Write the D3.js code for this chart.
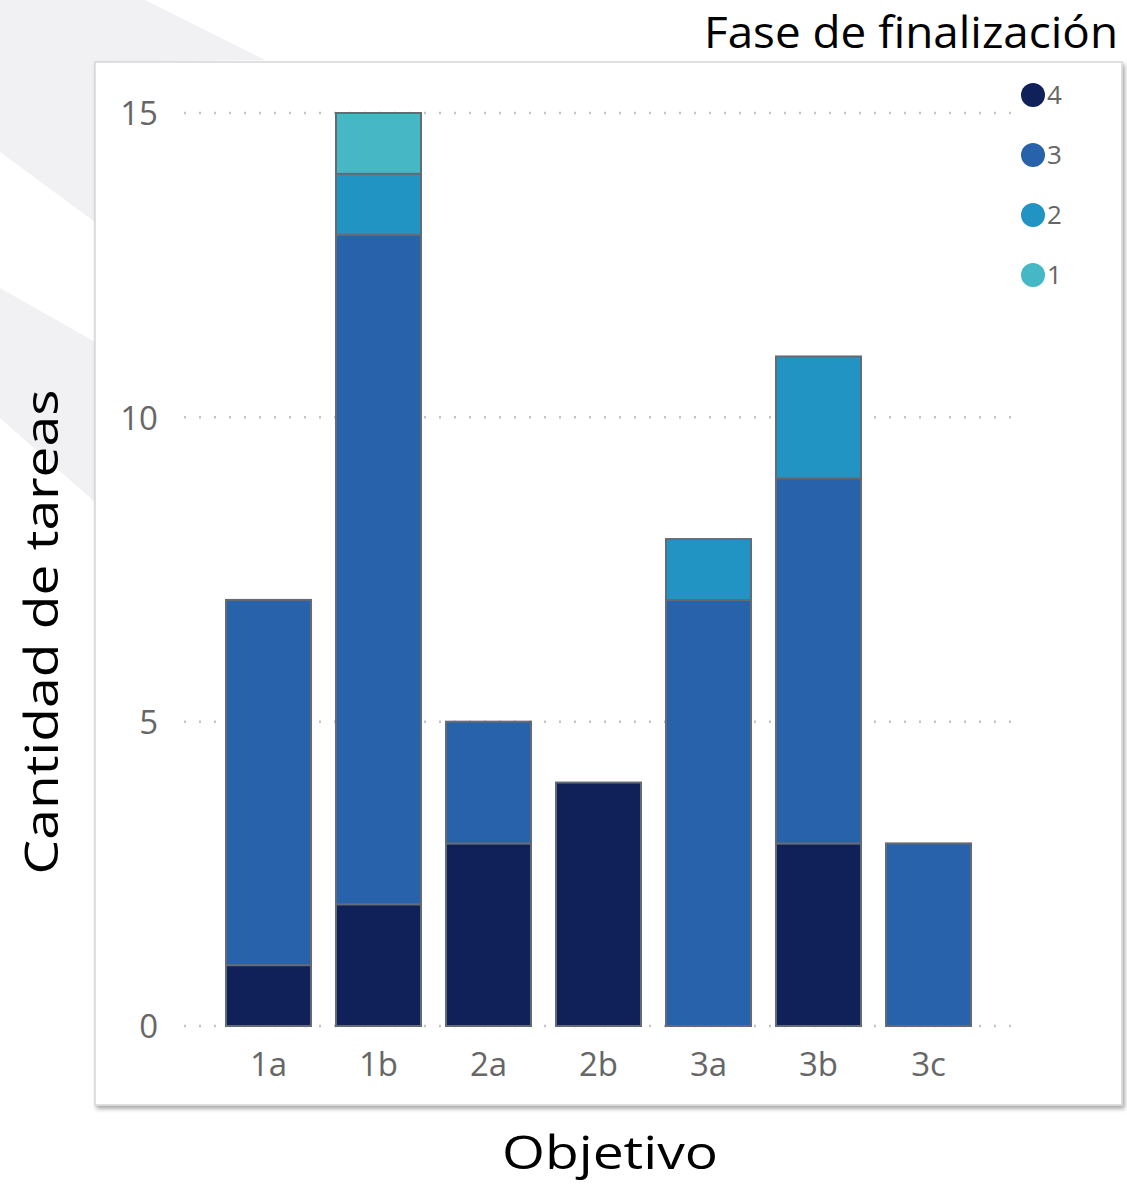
<!DOCTYPE html>
<html>
<head>
<meta charset="utf-8">
<script src="https://cdn.jsdelivr.net/npm/d3@7"></script>
<style>
  html, body { margin: 0; padding: 0; background: #fff; }
  svg { display: block; }
</style>
</head>
<body>
<svg id="chart"></svg>
<script>
// data
const objetivos = ['1a', '1b', '2a', '2b', '3a', '3b', '3c'];
const fases = ['4', '3', '2', '1'];
const fase4 = [1, 2, 3, 4, 0, 3, 0];
const fase3 = [6, 11, 2, 0, 7, 6, 3];
const fase2 = [0, 1, 0, 0, 1, 2, 0];
const fase1 = [0, 1, 0, 0, 0, 0, 0];
const yTicks = [0, 5, 10, 15];
const colores = ['#10215a', '#2862aa', '#2294c4', '#46b7c4'];

const width = 1127;
const height = 1195;

const svg = d3.select('#chart').attr('width', width).attr('height', height);

// faint background shapes on the left
const bg = svg.append('g').attr('fill', '#f1f1f3');
bg.append('path').attr('d', 'M0,0 L145,0 L265,60 L95,62 L95,222 L0,152 Z');
bg.append('path').attr('d', 'M0,288 L95,342 L95,502 L0,418 Z');

// panel with shadow
const defs = svg.append('defs');
const filt = defs.append('filter').attr('id', 'sombra').attr('x', '-5%').attr('y', '-5%').attr('width', '110%').attr('height', '110%');
filt.append('feDropShadow').attr('dx', 2).attr('dy', 3).attr('stdDeviation', 2).attr('flood-color', '#000').attr('flood-opacity', 0.35);

svg.append('rect')
  .attr('x', 95).attr('y', 62)
  .attr('width', 1027).attr('height', 1043)
  .attr('fill', '#fff')
  .attr('stroke', '#d6d6d6')
  .attr('stroke-width', 1.5)
  .attr('filter', 'url(#sombra)');

// scales
const x = d3.scaleBand()
  .domain(objetivos)
  .range([213.5, 983.5])
  .paddingInner(0.227)
  .paddingOuter(0.1135);

const y = d3.scaleLinear().domain([0, 15]).range([1026, 113]);

const color = d3.scaleOrdinal().domain(fases).range(colores);

// gridlines
svg.append('g')
  .selectAll('line')
  .data(yTicks)
  .enter()
  .append('line')
  .attr('x1', 184).attr('x2', 1015)
  .attr('y1', (d) => y(d)).attr('y2', (d) => y(d))
  .attr('stroke', '#c4c4c4')
  .attr('stroke-width', 2.5)
  .attr('stroke-dasharray', '2,13');

// y axis labels
const yAxis = svg.append('g')
  .attr('transform', 'translate(158,0)')
  .call(d3.axisLeft(y).tickValues(yTicks).tickSize(0).tickPadding(0));
yAxis.select('.domain').remove();
yAxis.selectAll('text')
  .attr('font-family', 'Open Sans, Noto Sans, sans-serif')
  .attr('font-size', 33)
  .attr('fill', '#666')
  .attr('dy', '0.36em');

// x axis labels
const xAxis = svg.append('g')
  .attr('transform', 'translate(0,1026)')
  .call(d3.axisBottom(x).tickSize(0).tickPadding(0));
xAxis.select('.domain').remove();
xAxis.selectAll('text')
  .attr('font-family', 'Open Sans, Noto Sans, sans-serif')
  .attr('font-size', 33)
  .attr('fill', '#666')
  .attr('y', 50)
  .attr('dy', 0);

// stacked bars
const tabla = objetivos.map((o, i) => ({
  objetivo: o,
  '4': fase4[i],
  '3': fase3[i],
  '2': fase2[i],
  '1': fase1[i],
}));

const series = d3.stack().keys(fases)(tabla);

svg.append('g')
  .selectAll('g')
  .data(series)
  .enter()
  .append('g')
  .attr('fill', (d) => color(d.key))
  .selectAll('rect')
  .data((d) => d.filter((s) => s[1] > s[0]))
  .enter()
  .append('rect')
  .attr('x', (d) => x(d.data.objetivo))
  .attr('y', (d) => y(d[1]))
  .attr('width', x.bandwidth())
  .attr('height', (d) => y(d[0]) - y(d[1]))
  .attr('stroke', '#656b74')
  .attr('stroke-width', 2);

// legend
const legend = svg.append('g');
legend.selectAll('circle')
  .data(fases)
  .enter()
  .append('circle')
  .attr('cx', 1033)
  .attr('cy', (d, i) => 95 + i * 60)
  .attr('r', 12)
  .attr('fill', (d) => color(d));
legend.selectAll('text')
  .data(fases)
  .enter()
  .append('text')
  .attr('x', 1047)
  .attr('y', (d, i) => 95 + i * 60)
  .attr('dy', '0.36em')
  .attr('font-family', 'Open Sans, Noto Sans, sans-serif')
  .attr('font-size', 26)
  .attr('fill', '#666')
  .text((d) => d);

// titles
svg.append('text')
  .attr('x', 1118).attr('y', 48)
  .attr('text-anchor', 'end')
  .attr('font-family', 'Open Sans, Noto Sans, sans-serif')
  .attr('font-size', 44)
  .attr('textLength', 414)
  .attr('lengthAdjust', 'spacingAndGlyphs')
  .attr('fill', '#000')
  .text('Fase de finalización');

svg.append('text')
  .attr('x', 610).attr('y', 1169)
  .attr('text-anchor', 'middle')
  .attr('font-family', 'Open Sans, Noto Sans, sans-serif')
  .attr('font-size', 46)
  .attr('textLength', 216)
  .attr('lengthAdjust', 'spacingAndGlyphs')
  .attr('fill', '#000')
  .text('Objetivo');

svg.append('text')
  .attr('transform', 'translate(58,632) rotate(-90)')
  .attr('text-anchor', 'middle')
  .attr('font-family', 'Open Sans, Noto Sans, sans-serif')
  .attr('font-size', 46)
  .attr('textLength', 485)
  .attr('lengthAdjust', 'spacingAndGlyphs')
  .attr('fill', '#000')
  .text('Cantidad de tareas');
</script>
</body>
</html>
